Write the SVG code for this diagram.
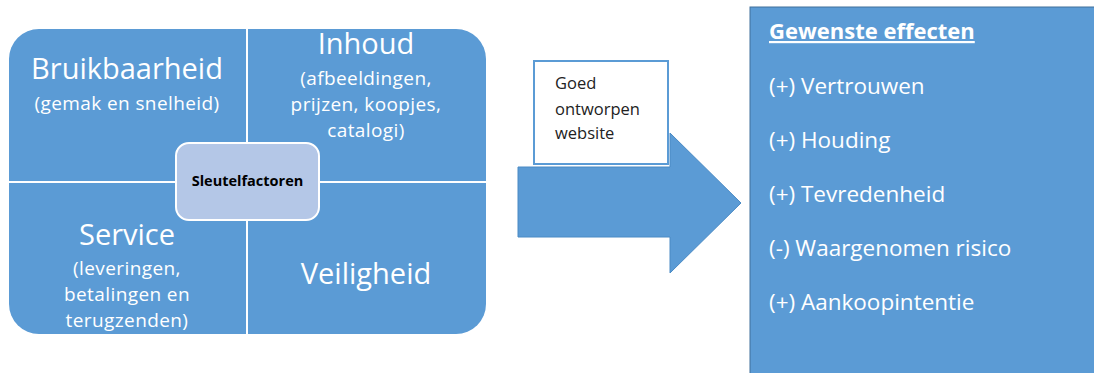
<svg xmlns="http://www.w3.org/2000/svg" width="1094" height="373" viewBox="0 0 1094 373">
<style>
.q{fill:#5b9bd5}
.t{font-family:"Open Sans","Liberation Sans",sans-serif;fill:#fff;text-anchor:middle}
.big{font-size:29px}
.sub{font-size:19px;letter-spacing:0.4px}
.eff{font-family:"Open Sans","Liberation Sans",sans-serif;fill:#fff;font-size:22.5px}
</style>
<rect width="1094" height="373" fill="#fff"/>
<g id="quadrants">
<rect class="q" x="9" y="29" width="477" height="305" rx="30"/>
<line x1="247" y1="29" x2="247" y2="334" stroke="#fff" stroke-width="2"/>
<line x1="9" y1="182" x2="486" y2="182" stroke="#fff" stroke-width="2"/>
</g>
<g id="bruikbaarheid">
<text class="t big" x="127" y="79">Bruikbaarheid</text>
<text class="t sub" x="127" y="110">(gemak en snelheid)</text>
</g>
<g id="inhoud">
<text class="t big" x="366" y="54">Inhoud</text>
<text class="t sub" x="366" y="85">(afbeeldingen,</text>
<text class="t sub" x="366" y="111">prijzen, koopjes,</text>
<text class="t sub" x="366" y="137">catalogi)</text>
</g>
<g id="service">
<text class="t big" x="127" y="245">Service</text>
<text class="t sub" x="127" y="275">(leveringen,</text>
<text class="t sub" x="127" y="301">betalingen en</text>
<text class="t sub" x="127" y="327">terugzenden)</text>
</g>
<g id="veiligheid">
<text class="t big" x="366" y="284">Veiligheid</text>
</g>
<g id="sleutelfactoren">
<rect x="176" y="143" width="143" height="77" rx="13" fill="#b4c7e7" stroke="#fff" stroke-width="2"/>
<text x="247.5" y="186" font-family="'Open Sans','Liberation Sans',sans-serif" font-size="14.5" font-weight="bold" fill="#000" text-anchor="middle">Sleutelfactoren</text>
</g>
<g id="connectors">
<polygon points="518,167 670,167 670,133 741,203 670,273 670,237 518,237" fill="#5b9bd5" stroke="#4a8ac4" stroke-width="1"/>
</g>
<g id="website">
<rect x="534" y="61" width="134" height="103" fill="#fff" stroke="#5b9bd5" stroke-width="2"/>
<text font-family="'Open Sans','Liberation Sans',sans-serif" font-size="16.5" fill="#222">
<tspan x="555" y="89">Goed</tspan>
<tspan x="555" y="115">ontworpen</tspan>
<tspan x="555" y="139">website</tspan>
</text>
</g>
<g id="effecten">
<rect x="750" y="7" width="360" height="380" fill="#5b9bd5" stroke="#41719c" stroke-width="1"/>
<text x="769" y="39" font-family="'Open Sans','Liberation Sans',sans-serif" font-size="22" font-weight="bold" fill="#fff" text-decoration="underline">Gewenste effecten</text>
<text class="eff" x="769" y="94">(+) Vertrouwen</text>
<text class="eff" x="769" y="148">(+) Houding</text>
<text class="eff" x="769" y="202">(+) Tevredenheid</text>
<text class="eff" x="769" y="256">(-) Waargenomen risico</text>
<text class="eff" x="769" y="310">(+) Aankoopintentie</text>
</g>
</svg>
